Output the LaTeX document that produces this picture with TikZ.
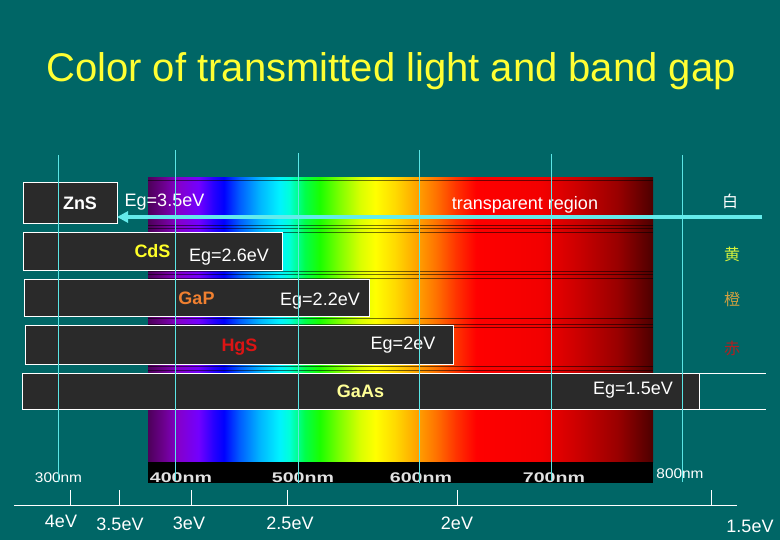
\documentclass[tikz,border=0pt]{standalone}
\usepackage{fontspec}
\setmainfont{Liberation Sans}
\newfontfamily\cjk{Noto Sans CJK JP}
\usetikzlibrary{arrows.meta}
\definecolor{bg}{RGB}{0,102,102}
\definecolor{boxgray}{RGB}{42,42,42}
\definecolor{gridcyan}{RGB}{90,230,230}
\definecolor{arrowcyan}{RGB}{100,235,235}
\definecolor{titleyellow}{RGB}{255,255,51}
\definecolor{cdsyellow}{RGB}{255,255,40}
\definecolor{gaporange}{RGB}{240,128,48}
\definecolor{hgsred}{RGB}{220,20,20}
\definecolor{gaasyellow}{RGB}{255,255,150}
\definecolor{kiiro}{RGB}{210,240,60}
\definecolor{daidai}{RGB}{208,160,64}
\definecolor{aka}{RGB}{176,32,32}
\definecolor{nmgray}{RGB}{225,225,225}
\pgfdeclarehorizontalshading{spectrum}{100bp}{%
rgb(0bp)=(0.30,0,0.35); rgb(25bp)=(0.30,0,0.35); rgb(26.5bp)=(0.42,0,0.55); rgb(28bp)=(0.52,0,0.80);
rgb(30bp)=(0.45,0,1); rgb(31.5bp)=(0.15,0,1); rgb(32.5bp)=(0,0,1);
rgb(34bp)=(0,0.35,1); rgb(36bp)=(0,0.7,1); rgb(38bp)=(0,0.95,1);
rgb(39bp)=(0,1,0.85); rgb(40.5bp)=(0,1,0.3); rgb(42bp)=(0.1,1,0);
rgb(44bp)=(0.5,1,0); rgb(46bp)=(0.85,1,0); rgb(47.5bp)=(1,1,0);
rgb(49.5bp)=(1,0.85,0); rgb(51.5bp)=(1,0.65,0); rgb(53.5bp)=(1,0.45,0);
rgb(55.5bp)=(1,0.2,0); rgb(57.5bp)=(1,0,0); rgb(64bp)=(0.95,0,0);
rgb(67.5bp)=(0.8,0,0); rgb(71.5bp)=(0.6,0,0); rgb(75bp)=(0.3,0,0); rgb(100bp)=(0.3,0,0)}
\begin{document}
\begin{tikzpicture}[x=1pt,y=-1pt,
  every node/.style={inner sep=0pt,outer sep=0pt},
  matbox/.style={draw=white,line width=0.9pt,fill=boxgray,anchor=north west},
  lbl/.style={font=\fontsize{18}{20}\selectfont,text=white,anchor=base},
  mat/.style={font=\fontsize{18}{20}\selectfont\bfseries,anchor=base},
  kanji/.style={font=\cjk\fontsize{16}{18}\selectfont,anchor=base},
  gridline/.style={draw=gridcyan,line width=1pt},
  stripline/.style={draw=black,opacity=0.55,line width=0.7pt},
  nmstrip/.style={font=\fontsize{14}{16}\selectfont\bfseries,text=nmgray,anchor=base,xscale=1.4},
  nmout/.style={font=\fontsize{14}{16}\selectfont,text=white,anchor=base,xscale=1.1},
  evlbl/.style={font=\fontsize{18}{20}\selectfont,text=white,anchor=base},
  axisline/.style={draw=white,line width=1pt}]
\useasboundingbox (0,0) rectangle (780,540);
\fill[bg] (0,0) rectangle (780,540);
% title
\node[font=\fontsize{40}{48}\selectfont,text=titleyellow,anchor=base] (title) at (391,82) {Color of transmitted light and band gap};
% spectrum
\shade[shading=spectrum] (148,178) rectangle (653,462);
\fill[black] (148,462) rectangle (653,483);
\foreach \yy in {180,225,228,232,271,274,278,318,324,327,366,370}
  \draw[stripline] (148,\yy) -- (653,\yy);
% boxes
\node[matbox,minimum width=94pt,minimum height=41pt] (zns) at (23,182) {};
\node[matbox,minimum width=259pt,minimum height=38pt] (cds) at (23,232) {};
\node[matbox,minimum width=345pt,minimum height=37pt] (gap) at (24,279) {};
\node[matbox,minimum width=428pt,minimum height=39pt] (hgs) at (25,325) {};
\node[matbox,minimum width=677pt,minimum height=36pt] (gaas) at (22,373) {};
\coordinate (gaasTR) at (766,373);
\coordinate (gaasBR) at (766,409);
\draw[axisline,line width=0.9pt] (gaas.north east) -- (gaasTR);
\draw[axisline,line width=0.9pt] (gaas.south east) -- (gaasBR);
% labels
\node[mat,text=white] (tzns) at (80,210) {ZnS};
\node[lbl] (eg35) at (164.5,207) {Eg=3.5eV};
\node[lbl] (trans) at (525,210) {transparent region};
\node[kanji,text=white] (shiro) at (730,208) {白};
\node[mat,text=cdsyellow] (tcds) at (152.5,258) {CdS};
\node[lbl] (eg26) at (229,262) {Eg=2.6eV};
\node[kanji,text=kiiro] (ki) at (732,261) {黄};
\node[mat,text=gaporange] (tgap) at (196.5,305) {GaP};
\node[lbl] (eg22) at (320,306) {Eg=2.2eV};
\node[kanji,text=daidai] (dai) at (732,306) {橙};
\node[mat,text=hgsred] (thgs) at (239.5,352) {HgS};
\node[lbl] (eg20) at (403,349) {Eg=2eV};
\node[kanji,text=aka] (akaji) at (732,355) {赤};
\node[mat,text=gaasyellow] (tgaas) at (360.5,397) {GaAs};
\node[lbl] (eg15) at (633,395) {Eg=1.5eV};
% nm labels
\node[nmout] (nm300) at (58.5,482) {300nm};
\node[nmstrip] (nm400) at (181,482) {400nm};
\node[nmstrip] (nm500) at (303,482) {500nm};
\node[nmstrip] (nm600) at (421,482) {600nm};
\node[nmstrip] (nm700) at (554,482) {700nm};
\node[nmout] (nm800) at (680,478) {800nm};
% vertical wavelength lines
\foreach \xx/\ya/\yb in {58/155/482,175/150/481,298/153/483,419/150/483,551/154/481,682/155/482}
  \draw[gridline] (\xx,\ya) -- (\xx,\yb);
% arrow
\coordinate (arrstart) at (762,217);
\draw[draw=arrowcyan,line width=4pt,-{Triangle[length=11pt,width=11pt]}] (arrstart) -- (arrstart -| zns.east);
% energy axis
\coordinate (axL) at (14,505);
\coordinate (axR) at (737,505);
\draw[axisline] (axL) -- (axR);
\foreach \xx in {70,119,191,287,457,711}
  \draw[axisline] (\xx,490) -- (\xx,505);
\node[evlbl] (ev40) at (61,527) {4eV};
\node[evlbl] (ev35) at (120,530) {3.5eV};
\node[evlbl] (ev30) at (189,529) {3eV};
\node[evlbl] (ev25) at (290,529) {2.5eV};
\node[evlbl] (ev20) at (457,529) {2eV};
\node[evlbl] (ev15) at (750,532) {1.5eV};
\end{tikzpicture}
\end{document}
